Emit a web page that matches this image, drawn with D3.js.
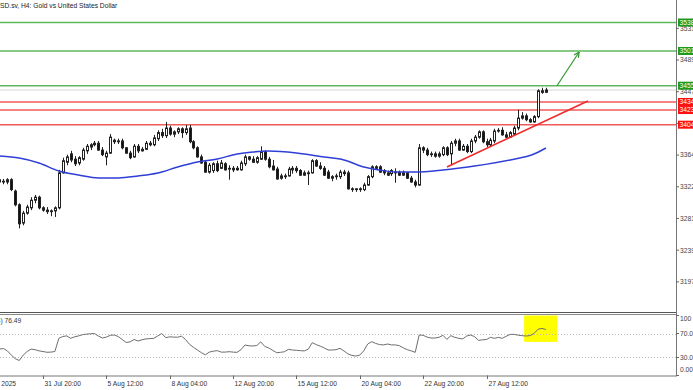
<!DOCTYPE html>
<html><head><meta charset="utf-8">
<script src="https://cdn.jsdelivr.net/npm/d3@7"></script>
<style>body{margin:0;background:#fff;overflow:hidden}svg{display:block;font-family:"Liberation Sans",Arial,sans-serif}</style>
</head><body><svg id="c" width="693" height="390"></svg>
<script>
// ---------- DATA ----------
const title = "XAUUSD.sv, H4:  Gold vs United States Dollar";
const open  = [3329,3330,3329,3332,3317,3299,3275,3288,3295,3305,3309,3295,3292,3290,3291,3295,3341,3355,3366,3359,3354,3359,3370,3375,3378,3380,3371,3362,3367,3384,3382,3383,3374,3367,3362,3376,3370,3372,3380,3378,3386,3394,3390,3400,3392,3395,3399,3394,3400,3382,3374,3362,3355,3342,3344,3353,3347,3353,3346,3347,3345,3345,3353,3362,3359,3355,3359,3369,3359,3350,3346,3334,3337,3337,3345,3347,3344,3338,3341,3341,3357,3350,3347,3342,3334,3336,3336,3340,3341,3320,3319,3320,3319,3325,3336,3349,3349,3344,3341,3340,3342,3342,3338,3341,3334,3329,3325,3374,3371,3365,3366,3363,3365,3374,3366,3380,3383,3371,3376,3369,3383,3388,3395,3382,3378,3383,3396,3397,3391,3388,3392,3400,3413,3416,3411,3408,3415,3449,3447];
const high  = [3334,3333,3334,3334,3319,3301,3291,3299,3309,3312,3311,3297,3296,3293,3297,3345,3361,3365,3370,3363,3363,3374,3379,3380,3383,3383,3375,3370,3392,3386,3386,3386,3375,3370,3379,3379,3375,3383,3383,3391,3397,3399,3408,3403,3397,3401,3401,3404,3404,3384,3376,3365,3358,3354,3355,3357,3358,3355,3351,3350,3350,3357,3365,3363,3363,3363,3376,3371,3362,3358,3349,3340,3340,3349,3350,3350,3346,3344,3344,3359,3359,3355,3350,3345,3338,3340,3345,3345,3344,3322,3321,3322,3328,3338,3351,3351,3351,3346,3344,3346,3347,3344,3344,3342,3337,3332,3379,3376,3374,3369,3369,3369,3376,3376,3383,3386,3386,3379,3379,3386,3391,3397,3397,3386,3387,3399,3400,3401,3395,3396,3403,3424,3421,3419,3413,3417,3451,3453,3453];
const low   = [3324,3326,3326,3317,3297,3268,3272,3286,3292,3301,3293,3290,3287,3284,3283,3293,3340,3351,3355,3350,3351,3357,3366,3371,3376,3370,3363,3351,3366,3379,3379,3372,3366,3359,3361,3367,3369,3371,3376,3376,3383,3387,3387,3390,3388,3392,3387,3391,3380,3372,3361,3353,3341,3340,3341,3342,3346,3344,3332,3342,3344,3344,3350,3357,3354,3353,3358,3357,3347,3344,3332,3332,3333,3336,3340,3341,3337,3337,3325,3340,3349,3345,3337,3333,3330,3332,3333,3337,3319,3316,3316,3316,3317,3324,3334,3345,3341,3338,3337,3337,3328,3337,3337,3333,3328,3322,3324,3367,3363,3362,3361,3361,3363,3363,3351,3376,3370,3370,3367,3367,3380,3386,3380,3375,3376,3380,3394,3390,3387,3387,3390,3397,3411,3409,3407,3407,3413,3445,3446];
const close = [3332,3329,3332,3319,3299,3274,3288,3296,3305,3309,3295,3292,3290,3291,3295,3341,3357,3362,3358,3353,3361,3371,3376,3378,3380,3371,3365,3367,3388,3382,3383,3374,3367,3361,3376,3370,3372,3380,3378,3387,3394,3390,3400,3392,3395,3399,3394,3399,3382,3374,3362,3354,3342,3351,3353,3344,3354,3345,3347,3345,3347,3354,3362,3359,3355,3361,3369,3359,3349,3345,3333,3337,3336,3346,3347,3344,3338,3341,3340,3357,3350,3347,3338,3334,3336,3337,3342,3342,3320,3319,3320,3319,3325,3336,3349,3347,3342,3341,3338,3344,3341,3338,3341,3334,3329,3325,3374,3371,3365,3366,3363,3366,3374,3365,3380,3383,3371,3376,3369,3383,3388,3395,3382,3378,3384,3396,3397,3391,3388,3394,3400,3413,3416,3411,3408,3415,3449,3447,3450];
const rsi = [44,45,41,34,28,25,34,40,44,43,41,40,38.7,39,40,62,65,66,62,64.5,66,68,69,69.5,70,65.8,62.5,64,67,67.5,65,60,55,56,60,57.5,59.5,61,61.5,62,66,70,63,64.5,64,63.8,65.5,60,52,47,42.5,38,34.5,39,40.5,41.4,39,39,39.7,39,38.6,43,50.8,49.5,49.2,50,56,48.5,46,42,38,38.6,39.7,43.6,42.5,42,41.4,41,44,54.7,51.5,49,46,42.5,42.5,43,45.3,41,36,33.5,32.5,34,41,52.5,56.4,53.5,51.5,51,52.5,51,51,49.7,46,43,41,38.6,67.5,67,64,62.5,62.5,63.6,67,60.3,66.4,63.6,62,61,65.8,67.5,64.7,58.5,59.5,60,63.6,62,63.5,62,65.5,68.5,68.5,67.2,66.4,65.8,66.5,70,77,78.6,76.5];
const maIdx = [0,5,10,15,20,25,30,35,40,45,50,55,60,64,68,75,82,87,92,96,100,105,112,120,129,135,138];
const maVal = [3363.2,3360.6,3354.0,3343.5,3338.2,3334.3,3334.3,3336.9,3340.8,3348.7,3355.3,3359.3,3365.8,3368.5,3369.8,3367.2,3361.9,3358.0,3348.7,3344.8,3342.1,3342.1,3344.8,3350.0,3358.0,3365.8,3373.7];
const greenLevels = [3538.9, 3501.4, 3455.7];
const redLevels = [3434.3, 3423.7, 3404.4];
const priceTicks = [3531.2, 3489.5, 3447.8, 3406.1, 3364.4, 3322.7, 3281.0, 3239.3, 3197.6];
const rsiTicks = [100, 70, 30, 0];
const rsiLevels = [70, 30];
const timeIdx = [-5, 11, 27, 43, 59, 75, 91, 107, 123];
const timeLabels = ["29 Jul 2025","31 Jul 20:00","5 Aug 12:00","8 Aug 04:00","12 Aug 20:00","15 Aug 12:00","20 Aug 04:00","22 Aug 20:00","27 Aug 12:00"];
const trendIdx = [113, 148.6], trendVal = [3348.7, 3435.6];
const arrowIdx = [140.8, 146.4], arrowVal = [3455.7, 3500.1];
const rsiName = "RSI(14)", rsiLast = "76.49";
const highlightIdx = [132.5, 140.8], highlightRsi = [100, 56];

// ---------- LAYOUT ----------
const svg = d3.select("#c");
const W = 676, mainTop = 0, mainBot = 312.5, rsiTop = 315.5, rsiBot = 375.5;
const x = d3.scaleLinear().domain([0, 138]).range([-0.56, 545.9]);
const y = d3.scaleLinear().domain([3156.6, 3568.5]).range([313, 0]);
const yr = d3.scaleLinear().domain([0, 100]).range([rsiBot, rsiTop]);
const FS = 6.7;

const defs = svg.append("defs");
defs.append("clipPath").attr("id","cm").append("rect").attr("x",0).attr("y",0).attr("width",W).attr("height",mainBot);
defs.append("clipPath").attr("id","cr").append("rect").attr("x",0).attr("y",rsiTop-1).attr("width",W).attr("height",rsiBot-rsiTop+1);

const gm = svg.append("g").attr("clip-path","url(#cm)");
const gr = svg.append("g").attr("clip-path","url(#cr)");

// last price line
gm.append("line").attr("x1",0).attr("x2",W).attr("y1",y(close[close.length-1])).attr("y2",y(close[close.length-1]))
  .attr("stroke","#d8d8d8").attr("stroke-width",1);

// level lines
greenLevels.forEach(v=>gm.append("line").attr("x1",0).attr("x2",W).attr("y1",y(v)).attr("y2",y(v)).attr("stroke","#5cb85c").attr("stroke-width",1.5));
redLevels.forEach(v=>gm.append("line").attr("x1",0).attr("x2",W).attr("y1",y(v)).attr("y2",y(v)).attr("stroke","#f25a5a").attr("stroke-width",1.6));

// candles
const idx = d3.range(open.length);
gm.append("g").selectAll("line").data(idx).join("line")
  .attr("x1",i=>Math.round(x(i))+0.5).attr("x2",i=>Math.round(x(i))+0.5)
  .attr("y1",i=>y(high[i])).attr("y2",i=>y(low[i])).attr("stroke","#222").attr("stroke-width",1);
gm.append("g").selectAll("rect").data(idx).join("rect")
  .attr("x",i=>Math.round(x(i))-0.5).attr("width",2)
  .attr("y",i=>y(Math.max(open[i],close[i])))
  .attr("height",i=>Math.max(0.6,Math.abs(y(open[i])-y(close[i]))))
  .attr("fill",i=>close[i]>=open[i]?"#fff":"#111").attr("stroke","#222").attr("stroke-width",1);

// moving average
gm.append("path").datum(maIdx.map((d,k)=>[d,maVal[k]]))
  .attr("d",d3.line().x(d=>x(d[0])).y(d=>y(d[1])).curve(d3.curveMonotoneX))
  .attr("fill","none").attr("stroke","#2f3fd6").attr("stroke-width",1.5);

// trend line
gm.append("line").attr("x1",x(trendIdx[0])).attr("y1",y(trendVal[0])).attr("x2",x(trendIdx[1])).attr("y2",y(trendVal[1]))
  .attr("stroke","#f02a2a").attr("stroke-width",1.6);

// arrow
const ax1=x(arrowIdx[0]), ay1=y(arrowVal[0]), ax2=x(arrowIdx[1]), ay2=y(arrowVal[1]);
gm.append("line").attr("x1",ax1).attr("y1",ay1).attr("x2",ax2).attr("y2",ay2).attr("stroke","#2e9a2e").attr("stroke-width",1.2);
const ang=Math.atan2(ay2-ay1, ax2-ax1), L=6, spread=0.45;
[ang+Math.PI-spread, ang+Math.PI+spread].forEach(a=>{
  gm.append("line").attr("x1",ax2).attr("y1",ay2).attr("x2",ax2+L*Math.cos(a)).attr("y2",ay2+L*Math.sin(a))
    .attr("stroke","#2e9a2e").attr("stroke-width",1.2);
});

// title
const t = svg.append("text").attr("y",8).attr("font-size",FS).attr("fill","#222").text(title);
const tmp = svg.append("text").attr("font-size",FS).text("XAUU");
const wHide = tmp.node().getComputedTextLength(); tmp.remove();
t.attr("x",-wHide);

// separators
svg.append("line").attr("x1",0).attr("x2",W).attr("y1",312.5).attr("y2",312.5).attr("stroke","#555");
svg.append("line").attr("x1",0).attr("x2",W).attr("y1",314.5).attr("y2",314.5).attr("stroke","#888");

// RSI panel
gr.append("rect").attr("x",x(highlightIdx[0])).attr("width",x(highlightIdx[1])-x(highlightIdx[0]))
  .attr("y",yr(highlightRsi[0])).attr("height",yr(highlightRsi[1])-yr(highlightRsi[0])).attr("fill","#ffff00");
rsiLevels.forEach(v=>gr.append("line").attr("x1",0).attr("x2",W).attr("y1",Math.round(yr(v))+0.5).attr("y2",Math.round(yr(v))+0.5)
  .attr("stroke","#bdbdbd").attr("stroke-dasharray","1,2"));
gr.append("path").datum(rsi).attr("d",d3.line().x((d,i)=>x(i)).y(d=>yr(d)))
  .attr("fill","none").attr("stroke","#6e6e6e").attr("stroke-width",1);
const rt = svg.append("text").attr("y",323).attr("font-size",FS).attr("fill","#333").text(rsiName+" "+rsiLast);
const tmp2 = svg.append("text").attr("font-size",FS).text("RSI(14");
const w2 = tmp2.node().getComputedTextLength(); tmp2.remove();
rt.attr("x",-w2+0.5);

// bottom axis
svg.append("line").attr("x1",0).attr("x2",W).attr("y1",rsiBot+0.5).attr("y2",rsiBot+0.5).attr("stroke","#777");
const tg = svg.append("g");
timeIdx.forEach((ti,k)=>{
  const px = Math.round(x(ti))+0.5;
  tg.append("line").attr("x1",px).attr("x2",px).attr("y1",rsiBot).attr("y2",rsiBot+3.5).attr("stroke","#666");
  tg.append("text").attr("x",px+1).attr("y",385.5).attr("font-size",FS).attr("fill","#333").text(timeLabels[k]);
});

// right axis
svg.append("line").attr("x1",W+0.5).attr("x2",W+0.5).attr("y1",0).attr("y2",rsiBot+1).attr("stroke","#777");
const fmt = d3.format(".2f");
priceTicks.forEach(v=>{
  const py = y(v);
  svg.append("line").attr("x1",W).attr("x2",W+3).attr("y1",py).attr("y2",py).attr("stroke","#666");
  svg.append("text").attr("x",W+4).attr("y",py).attr("dy","0.35em").attr("font-size",FS).attr("fill","#444").text(fmt(v));
});
rsiTicks.forEach(v=>{
  const py = Math.min(Math.max(yr(v), rsiTop+3), rsiBot-6);
  svg.append("line").attr("x1",W).attr("x2",W+3).attr("y1",yr(v)).attr("y2",yr(v)).attr("stroke","#666");
  svg.append("text").attr("x",W+4).attr("y",py).attr("dy","0.35em").attr("font-size",FS).attr("fill","#444").text(v===100?"100":fmt(v).replace(/^(\d+\.\d)\d$/, v===0?"$&":"$1"));
});
// level labels
function levelLabel(v, col){
  const py = y(v);
  svg.append("rect").attr("x",W+2).attr("y",py-4).attr("width",20).attr("height",8).attr("fill",col);
  svg.append("text").attr("x",W+3.5).attr("y",py).attr("dy","0.35em").attr("font-size",FS).attr("fill","#fff").text(fmt(v));
}
greenLevels.forEach(v=>levelLabel(v,"#1e9a1e"));
redLevels.forEach(v=>levelLabel(v,"#ff1010"));
</script></body></html>
